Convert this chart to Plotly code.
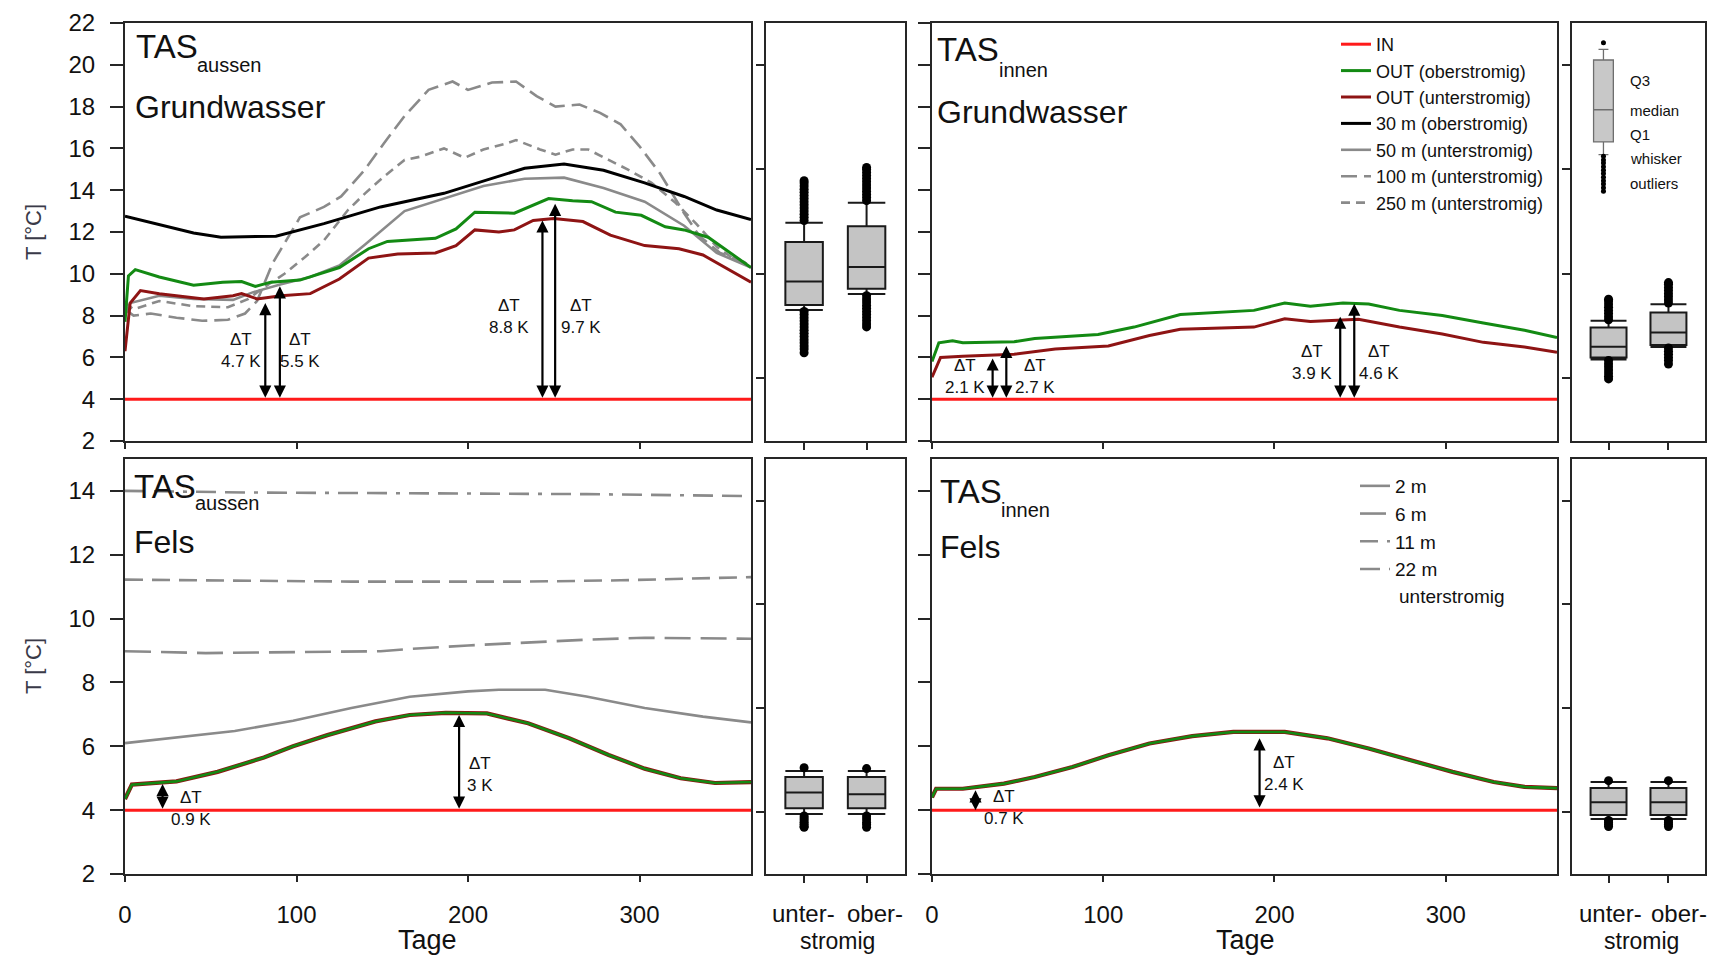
import plotly.graph_objects as go

# page body has an 8px margin: the figure is made 16px smaller and every
# screen position below is converted with that 8px offset
OFF = 8
FW, FH = 1715 - 2 * OFF, 968 - 2 * OFF
FONT = "Liberation Sans, Arial, sans-serif"

# ---------------- data: top-left (Grundwasser, TAS aussen) ----------------
in_days = [0, 365]
in_vals = [4, 4]

gwa_green_days = [0, 2, 6, 20, 40, 57, 68, 76, 85, 102, 125, 142, 153, 181, 193, 204, 227, 238, 247, 261, 272, 286, 301, 315, 326, 340, 352, 365]
gwa_green_vals = [7.7, 9.9, 10.2, 9.85, 9.45, 9.6, 9.63, 9.4, 9.6, 9.7, 10.3, 11.2, 11.55, 11.7, 12.15, 12.95, 12.9, 13.3, 13.6, 13.5, 13.45, 12.95, 12.8, 12.25, 12.1, 11.75, 11.05, 10.3]

gwa_dred_days = [0, 3, 9, 20, 46, 63, 68, 77, 91, 108, 125, 142, 159, 181, 193, 204, 218, 227, 238, 250, 267, 283, 303, 323, 337, 354, 365]
gwa_dred_vals = [6.3, 8.6, 9.2, 9.05, 8.8, 8.95, 9.05, 8.8, 8.95, 9.05, 9.75, 10.75, 10.95, 11.0, 11.35, 12.1, 12.0, 12.1, 12.55, 12.65, 12.5, 11.85, 11.35, 11.2, 10.9, 10.1, 9.6]

gwa_30m_days = [0, 20, 40, 56, 88, 116, 149, 186, 209, 233, 256, 279, 303, 326, 345, 365]
gwa_30m_vals = [12.75, 12.35, 11.95, 11.75, 11.8, 12.4, 13.2, 13.85, 14.45, 15.05, 15.25, 14.95, 14.35, 13.7, 13.05, 12.6]

gwa_50m_days = [0, 3, 20, 40, 63, 74, 91, 108, 125, 140, 163, 186, 209, 233, 256, 279, 303, 326, 345, 365]
gwa_50m_vals = [8.0, 8.6, 8.95, 8.8, 8.75, 9.1, 9.5, 9.85, 10.4, 11.4, 13.0, 13.6, 14.2, 14.55, 14.6, 14.1, 13.45, 12.3, 11.0, 10.3]

gwa_100m_days = [0, 5, 15, 30, 45, 60, 70, 77, 86, 102, 116, 126, 140, 151, 163, 177, 191, 200, 214, 228, 240, 251, 265, 277, 289, 300, 312, 326, 335, 347, 358, 365]
gwa_100m_vals = [8.3, 8.0, 8.1, 7.9, 7.75, 7.8, 8.1, 8.7, 10.5, 12.7, 13.2, 13.7, 15.0, 16.25, 17.55, 18.8, 19.2, 18.8, 19.15, 19.2, 18.5, 18.0, 18.1, 17.7, 17.15, 16.1, 14.8, 12.9, 11.8, 11.0, 10.65, 10.4]

gwa_250m_days = [0, 5, 20, 40, 60, 72, 80, 93, 105, 116, 130, 140, 151, 163, 172, 186, 198, 209, 221, 228, 242, 251, 261, 270, 282, 293, 307, 321, 333, 345, 356, 365]
gwa_250m_vals = [8.6, 8.3, 8.7, 8.45, 8.4, 8.8, 9.3, 10.0, 10.8, 11.6, 13.05, 13.85, 14.65, 15.45, 15.6, 16.0, 15.55, 15.95, 16.2, 16.4, 15.95, 15.7, 15.95, 15.95, 15.45, 15.0, 14.35, 13.4, 12.4, 11.3, 10.65, 10.5]

# ---------------- top-right (Grundwasser, TAS innen) ----------------
gwi_green_days = [0, 4, 12, 18, 48, 60, 97, 118, 145, 164, 188, 206, 221, 240, 255, 273, 298, 322, 346, 365]
gwi_green_vals = [5.8, 6.7, 6.8, 6.7, 6.75, 6.9, 7.1, 7.45, 8.05, 8.15, 8.25, 8.6, 8.45, 8.6, 8.55, 8.25, 8.0, 7.65, 7.3, 6.95]
gwi_dred_days = [0, 5, 18, 48, 72, 103, 127, 145, 188, 206, 221, 249, 273, 298, 322, 346, 365]
gwi_dred_vals = [5.05, 6.0, 6.05, 6.15, 6.4, 6.55, 7.05, 7.35, 7.45, 7.85, 7.72, 7.82, 7.45, 7.12, 6.72, 6.5, 6.25]

# ---------------- bottom-left (Fels, TAS aussen) ----------------
fa_out_days = [0, 4, 30, 54, 81, 98, 118, 146, 166, 187, 211, 235, 259, 282, 303, 324, 344, 365]
fa_out_vals = [4.35, 4.8, 4.9, 5.2, 5.65, 6.0, 6.35, 6.78, 6.98, 7.05, 7.03, 6.72, 6.25, 5.73, 5.3, 5.0, 4.85, 4.88]
fa_2m_days = [0, 30, 64, 98, 132, 166, 200, 218, 245, 269, 303, 337, 365]
fa_2m_vals = [6.1, 6.28, 6.48, 6.8, 7.2, 7.55, 7.72, 7.77, 7.77, 7.56, 7.2, 6.93, 6.75]
fa_6m_days = [0, 47, 149, 166, 200, 235, 269, 303, 365]
fa_6m_vals = [8.98, 8.92, 8.98, 9.05, 9.16, 9.26, 9.34, 9.4, 9.37]
fa_11m_days = [0, 132, 235, 289, 365]
fa_11m_vals = [11.22, 11.16, 11.16, 11.2, 11.3]
fa_22m_days = [0, 74, 269, 324, 365]
fa_22m_vals = [14.0, 13.95, 13.9, 13.87, 13.84]

# ---------------- bottom-right (Fels, TAS innen) ----------------
fi_out_days = [0, 2.4, 18, 42, 60, 82, 103, 127, 152, 176, 206, 231, 255, 279, 304, 328, 346, 365]
fi_out_vals = [4.4, 4.67, 4.67, 4.83, 5.04, 5.35, 5.72, 6.09, 6.32, 6.45, 6.45, 6.25, 5.93, 5.56, 5.2, 4.88, 4.73, 4.69]

# ---------------- box statistics [unter, ober] ----------------
box_cats = ["unter-", "ober-"]
gwa_box = dict(q1=[8.51, 9.28], med=[9.63, 10.32], q3=[11.52, 12.28], lo=[8.27, 9.03], hi=[12.44, 13.4])
gwa_out_unter = [12.55, 12.7, 12.85, 13.0, 13.15, 13.3, 13.45, 13.6, 13.75, 13.9, 14.05, 14.2, 14.35, 14.45,
                 8.2, 8.05, 7.9, 7.75, 7.6, 7.45, 7.3, 7.15, 7.0, 6.85, 6.7, 6.55, 6.4, 6.22]
gwa_out_ober = [13.5, 13.65, 13.8, 13.95, 14.1, 14.25, 14.4, 14.55, 14.7, 14.85, 15.0, 15.09,
                8.95, 8.8, 8.65, 8.5, 8.35, 8.2, 8.05, 7.9, 7.75, 7.6, 7.46]
gwi_box = dict(q1=[6.0, 6.59], med=[6.51, 7.19], q3=[7.43, 8.15], lo=[5.9, 6.5], hi=[7.75, 8.54])
gwi_out_unter = [7.8, 7.95, 8.1, 8.25, 8.4, 8.55, 8.7, 8.78, 5.85, 5.7, 5.55, 5.4, 5.25, 5.1, 4.97]
gwi_out_ober = [8.6, 8.75, 8.9, 9.05, 9.2, 9.35, 9.5, 9.58, 6.45, 6.3, 6.15, 6.0, 5.85, 5.68]
fa_box = dict(q1=[5.17, 5.17], med=[5.93, 5.84], q3=[6.68, 6.68], lo=[4.89, 4.89], hi=[6.96, 6.96])
fa_out_unter = [7.12, 4.8, 4.7, 4.6, 4.5, 4.4, 4.3, 4.25]
fa_out_ober = [7.08, 4.8, 4.65, 4.5, 4.38, 4.25]
fi_box = dict(q1=[4.84, 4.84], med=[5.46, 5.46], q3=[6.15, 6.15], lo=[4.65, 4.65], hi=[6.43, 6.43])
fi_out_unter = [6.5, 4.58, 4.48, 4.38, 4.29]
fi_out_ober = [6.5, 4.58, 4.48, 4.38, 4.29]
# explanatory example box
ex_box = dict(q1=16.31, med=17.85, q3=20.23, lo=15.7, hi=20.74)
ex_out = [21.06, 15.62, 15.45, 15.3, 15.12, 14.95, 14.8, 14.62, 14.45, 14.3, 14.12, 13.95]
ex_labels = ["Q3", "median", "Q1", "whisker", "outliers"]

# ΔT arrows: (day, top, bottom, label_day, label_y, label)
arrows_tl = [(81.8, 8.6, 4.0, 67.5, 6.35, "ΔT<br>4.7 K"), (90.3, 9.4, 4.0, 102, 6.35, "ΔT<br>5.5 K"),
             (243.4, 12.55, 4.0, 224, 7.95, "ΔT<br>8.8 K"), (250.8, 13.35, 4.0, 266, 7.95, "ΔT<br>9.7 K")]
arrows_tr = [(35.4, 5.95, 4.0, 19, 5.1, "ΔT<br>2.1 K"), (43.4, 6.55, 4.0, 60, 5.1, "ΔT<br>2.7 K"),
             (238.4, 7.95, 4.0, 221.8, 5.77, "ΔT<br>3.9 K"), (246.6, 8.57, 4.0, 261, 5.77, "ΔT<br>4.6 K")]
arrows_bl = [(21.9, 4.82, 4.0, 38.3, 4.05, "ΔT<br>0.9 K"), (194.8, 6.98, 4.0, 206.8, 5.12, "ΔT<br>3 K")]
arrows_br = [(25.4, 4.62, 3.95, 42.2, 4.07, "ΔT<br>0.7 K"), (191.3, 6.25, 4.04, 205.6, 5.14, "ΔT<br>2.4 K")]

RED = "#ff1a1a"
GREEN = "#138a13"
DRED = "#8e1414"
GREY = "#8a8a8a"


def fx(sx):  # screen x -> paper fraction
    return (sx - OFF) / FW


def fy(sy):  # screen y -> paper fraction
    return 1 - (sy - OFF) / FH


fig = go.Figure()


def line(x, y, ax, color, width, dash="solid", name=None, legend=None, rank=None):
    fig.add_trace(go.Scatter(
        x=x, y=y, xaxis="x" + ax, yaxis="y" + ax, mode="lines",
        line=dict(color=color, width=width, dash=dash),
        name=name if name else "", showlegend=bool(legend), legend=legend,
        legendrank=rank if rank else 1000, hoverinfo="skip"))


# top-left lines (legend 1)
line(gwa_100m_days, gwa_100m_vals, "", GREY, 2.6, "16px,7px", "100 m (unterstromig)", "legend", 6)
line(gwa_250m_days, gwa_250m_vals, "", GREY, 2.6, "9px,6px", "250 m (unterstromig)", "legend", 7)
line(gwa_50m_days, gwa_50m_vals, "", GREY, 2.6, "solid", "50 m (unterstromig)", "legend", 5)
line(gwa_30m_days, gwa_30m_vals, "", "black", 3, "solid", "30 m (oberstromig)", "legend", 4)
line(gwa_green_days, gwa_green_vals, "", GREEN, 3, "solid", "OUT (oberstromig)", "legend", 2)
line(gwa_dred_days, gwa_dred_vals, "", DRED, 3, "solid", "OUT (unterstromig)", "legend", 3)
line(in_days, in_vals, "", RED, 3, "solid", "IN", "legend", 1)

# top-right lines
line(gwi_green_days, gwi_green_vals, "3", GREEN, 3)
line(gwi_dred_days, gwi_dred_vals, "3", DRED, 3)
line(in_days, in_vals, "3", RED, 3)

# bottom-left lines (legend 2)
line(fa_2m_days, fa_2m_vals, "5", GREY, 2.6, "solid", "2 m", "legend2", 1)
line(fa_6m_days, fa_6m_vals, "5", GREY, 2.6, "26px,10px", "6 m", "legend2", 2)
line(fa_11m_days, fa_11m_vals, "5", GREY, 2.6, "18px,9px", "11 m", "legend2", 3)
line(fa_22m_days, fa_22m_vals, "5", GREY, 2.6, "20px,9px,20px,9px,4px,9px", "22 m", "legend2", 4)
line(fa_out_days, fa_out_vals, "5", DRED, 4.2)
line(fa_out_days, fa_out_vals, "5", GREEN, 2.6)
line(in_days, in_vals, "5", RED, 3)

# bottom-right lines
line(fi_out_days, fi_out_vals, "7", DRED, 4.2)
line(fi_out_days, fi_out_vals, "7", GREEN, 2.6)
line(in_days, in_vals, "7", RED, 3)


def boxes(stats, outs, ax):
    for i in range(2):
        fig.add_trace(go.Box(
            x=[i], q1=[stats["q1"][i]], median=[stats["med"][i]], q3=[stats["q3"][i]],
            lowerfence=[stats["lo"][i]], upperfence=[stats["hi"][i]],
            xaxis="x" + ax, yaxis="y" + ax, width=0.6, whiskerwidth=1,
            fillcolor="#c4c4c4", line=dict(color="#1a1a1a", width=2),
            boxpoints=False, showlegend=False, hoverinfo="skip"))
        fig.add_trace(go.Scatter(
            x=[i] * len(outs[i]), y=outs[i], xaxis="x" + ax, yaxis="y" + ax, mode="markers",
            marker=dict(color="black", size=9), showlegend=False, hoverinfo="skip"))


boxes(gwa_box, [gwa_out_unter, gwa_out_ober], "2")
boxes(gwi_box, [gwi_out_unter, gwi_out_ober], "4")
boxes(fa_box, [fa_out_unter, fa_out_ober], "6")
boxes(fi_box, [fi_out_unter, fi_out_ober], "8")

# example box (explanation)
fig.add_trace(go.Box(
    x=[-0.085], q1=[ex_box["q1"]], median=[ex_box["med"]], q3=[ex_box["q3"]],
    lowerfence=[ex_box["lo"]], upperfence=[ex_box["hi"]], xaxis="x4", yaxis="y4",
    width=0.33, whiskerwidth=0.5, fillcolor="#c8c8c8", line=dict(color="#6e6e6e", width=1.3),
    boxpoints=False, showlegend=False, hoverinfo="skip"))
fig.add_trace(go.Scatter(
    x=[-0.085] * len(ex_out), y=ex_out, xaxis="x4", yaxis="y4", mode="markers",
    marker=dict(color="black", size=5), showlegend=False, hoverinfo="skip"))

# ---------------- layout / axes (screen pixel positions) ----------------
XL = [fx(125), fx(751)]
XLB = [fx(766), fx(905)]
XR = [fx(932), fx(1557)]
XRB = [fx(1572), min(fx(1711), 0.999)]
YT = [fy(441), fy(23)]
YB = [fy(874), fy(459)]

AX = dict(showline=True, linecolor="#262626", linewidth=2, mirror=True, showgrid=False,
          zeroline=False, ticks="outside", tickcolor="#262626", tickwidth=2, automargin=False,
          tickfont=dict(size=24, family=FONT, color="#111111"))


def xa(domain, anchor, rng, tickvals, show=False, ticklen=6):
    return dict(AX, domain=domain, anchor=anchor, range=rng, tickvals=tickvals,
                showticklabels=show, ticklen=ticklen, ticklabelstandoff=12)


def ya(domain, anchor, rng, tickvals, show=False, ticklen=13):
    return dict(AX, domain=domain, anchor=anchor, range=rng, tickvals=tickvals,
                showticklabels=show, ticklen=ticklen, ticklabelstandoff=10)


day_ticks = [0, 100, 200, 300]
t_top = list(range(2, 23, 2))
t_bot = list(range(2, 15, 2))
box_ticks = [5, 10, 15, 20]
BXR = [-0.61, 1.615]

fig.update_layout(
    width=FW, height=FH, margin=dict(l=0, r=0, t=0, b=0, autoexpand=False),
    paper_bgcolor="white", plot_bgcolor="white",
    font=dict(family=FONT, color="#111111"),
    xaxis=xa(XL, "y", [0, 365], day_ticks),
    yaxis=ya(YT, "x", [2, 22], t_top, show=True),
    xaxis2=xa(XLB, "y2", BXR, [0, 1], ticklen=7),
    yaxis2=ya(YT, "x2", [2, 22], box_ticks, ticklen=8),
    xaxis3=xa(XR, "y3", [0, 365], day_ticks),
    yaxis3=ya(YT, "x3", [2, 22], t_top, ticklen=12),
    xaxis4=xa(XRB, "y4", BXR, [0, 1], ticklen=7),
    yaxis4=ya(YT, "x4", [2, 22], box_ticks, ticklen=8),
    xaxis5=xa(XL, "y5", [0, 365], day_ticks, show=True),
    yaxis5=ya(YB, "x5", [2, 15], t_bot, show=True),
    xaxis6=xa(XLB, "y6", BXR, [0, 1], ticklen=7),
    yaxis6=ya(YB, "x6", [2, 22], box_ticks, ticklen=8),
    xaxis7=xa(XR, "y7", [0, 365], day_ticks, show=True),
    yaxis7=ya(YB, "x7", [2, 15], t_bot, ticklen=12),
    xaxis8=xa(XRB, "y8", BXR, [0, 1], ticklen=7),
    yaxis8=ya(YB, "x8", [2, 22], box_ticks, ticklen=8),
    legend=dict(x=fx(1336), y=fy(26), xanchor="left", yanchor="top",
                bgcolor="rgba(0,0,0,0)", font=dict(size=18, family=FONT, color="#111111"),
                itemwidth=30, tracegroupgap=0, traceorder="normal"),
    legend2=dict(x=fx(1355), y=fy(467), xanchor="left", yanchor="top",
                 bgcolor="rgba(0,0,0,0)", font=dict(size=19, family=FONT, color="#111111"),
                 itemwidth=30, tracegroupgap=0, traceorder="normal"),
)

ann = []


def ptext(x, y, text, size, xanchor="left", color="#111111", angle=0):
    ann.append(dict(x=fx(x), y=fy(y), xref="paper", yref="paper", text=text,
                    showarrow=False, xanchor=xanchor, yanchor="middle", textangle=angle,
                    font=dict(size=size, family=FONT, color=color)))


# panel titles
ptext(134, 46.5, "TAS", 33); ptext(195, 65, "aussen", 20); ptext(133, 107.5, "Grundwasser", 32)
ptext(935, 50, "TAS", 33); ptext(997, 70, "innen", 20); ptext(935, 111.5, "Grundwasser", 32)
ptext(132, 486.5, "TAS", 33); ptext(193, 503, "aussen", 20); ptext(132, 541.5, "Fels", 32)
ptext(938, 491, "TAS", 33); ptext(999, 510, "innen", 20); ptext(938, 546.5, "Fels", 32)

# axis titles and category labels
ptext(33, 232, "T [°C]", 22, "center", "#3a3a48", -90)
ptext(33, 666, "T [°C]", 22, "center", "#3a3a48", -90)
ptext(427, 940, "Tage", 27, "center")
ptext(1245, 940, "Tage", 27, "center")
for cx in (803, 1610):
    ptext(cx, 913, box_cats[0], 24, "center")
for cx in (875, 1679):
    ptext(cx, 913, box_cats[1], 24, "center")
ptext(837, 941, "stromig", 23, "center")
ptext(1641, 941, "stromig", 23, "center")
ptext(1397, 596, "unterstromig", 19)

# example box labels
for lab, yy in zip(ex_labels, [80.7, 110.7, 134.3, 158.3, 183.3]):
    ptext(1628, yy, lab, 15)

# ΔT arrows
for arrows, ax in [(arrows_tl, ""), (arrows_tr, "3"), (arrows_bl, "5"), (arrows_br, "7")]:
    for d, top, bot, lx, ly, lab in arrows:
        ann.append(dict(x=d, y=top, ax=d, ay=bot, xref="x" + ax, yref="y" + ax,
                        axref="x" + ax, ayref="y" + ax, text="", showarrow=True,
                        arrowhead=2, arrowside="end+start", arrowsize=1.1, arrowwidth=2.2,
                        arrowcolor="black", standoff=0, startstandoff=0))
        ann.append(dict(x=lx, y=ly, xref="x" + ax, yref="y" + ax, text=lab, showarrow=False,
                        xanchor="center", yanchor="middle",
                        font=dict(size=17, family=FONT, color="#111111")))

fig.update_layout(annotations=ann)
fig.write_html("out.html")
